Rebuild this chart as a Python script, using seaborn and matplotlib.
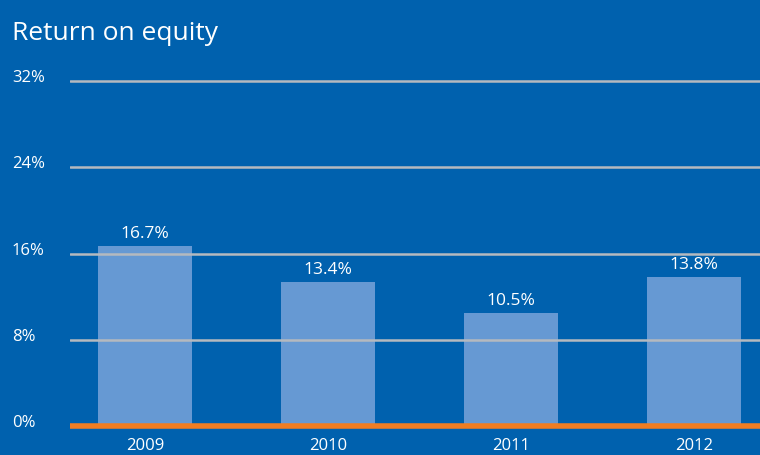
import matplotlib
matplotlib.use("Agg")
import matplotlib.pyplot as plt
import seaborn as sns
import pandas as pd

years = ["2009", "2010", "2011", "2012"]
roe = [16.7, 13.4, 10.5, 13.8]
labels = ["16.7%", "13.4%", "10.5%", "13.8%"]
yticks = [0, 8, 16, 24, 32]
ytick_labels = ["0%", "8%", "16%", "24%", "32%"]

BG = "#0061AE"
BAR = "#6699D3"
GRID = "#B5B9BF"
ORANGE = "#F07D22"

sns.set_theme(style="white")
plt.rcParams["font.family"] = ["Open Sans", "DejaVu Sans"]

fig = plt.figure(figsize=(7.6, 4.55), dpi=100, facecolor=BG)
W, H = 760, 455
y0 = 426
ppu = (426 - 81) / 32.0
ytop = 33.5
ax = fig.add_axes([70 / W, (H - y0) / H, 690 / W, ytop * ppu / H])
ax.set_facecolor(BG)

df = pd.DataFrame({"year": years, "roe": roe})
sns.barplot(data=df, x="year", y="roe", color=BAR, saturation=1, width=0.51,
            linewidth=0, edgecolor="none", ax=ax, zorder=1)

ax.set_xlim(-0.41, 3.36)
ax.set_ylim(0, ytop)
for t in yticks[1:]:
    ax.axhline(t, color=GRID, lw=1.8, zorder=3)
ax.axhline(0, color=ORANGE, lw=4, zorder=4, clip_on=False, solid_capstyle="butt")

for sp in ax.spines.values():
    sp.set_visible(False)
ax.set_xlabel("")
ax.set_ylabel("")
ax.set_yticks([])
ax.tick_params(axis="x", length=0, pad=9, colors="white", labelsize=12)

for i, (v, lab) in enumerate(zip(roe, labels)):
    ax.text(i, v + 0.35, lab, ha="center", va="bottom", color="white", fontsize=12.5, zorder=5)

for t, lab in zip(yticks, ytick_labels):
    yp = (y0 - t * ppu) / H
    fig.text(12 / W, 1 - yp - 5 / H, lab, ha="left", va="bottom", color="white", fontsize=12)

fig.text(12 / W, 1 - 40 / H, "Return on equity", ha="left", va="baseline", color="white",
         fontsize=19, fontweight="medium")

fig.savefig("out.png", dpi=100, facecolor=BG)
